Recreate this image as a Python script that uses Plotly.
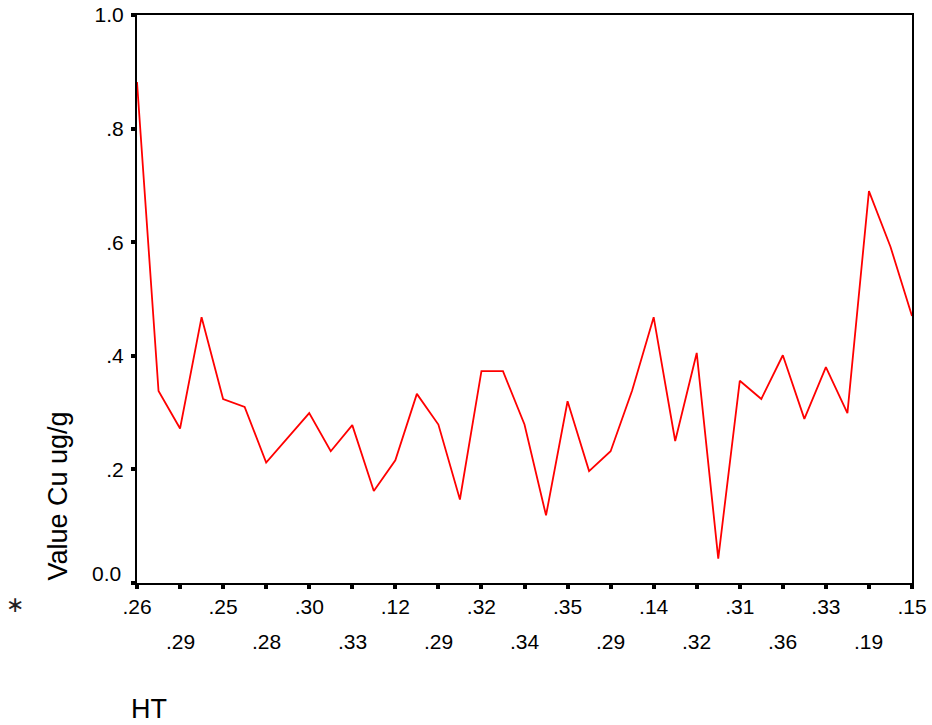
import plotly.graph_objects as go

# Cu values (ug/g) per case
cu_values = [0.882, 0.338, 0.272, 0.468, 0.324, 0.310, 0.212, 0.256, 0.299, 0.232,
             0.278, 0.162, 0.216, 0.333, 0.279, 0.147, 0.373, 0.373, 0.279, 0.119,
             0.320, 0.197, 0.232, 0.339, 0.468, 0.250, 0.405, 0.043, 0.356, 0.324,
             0.401, 0.289, 0.380, 0.299, 0.690, 0.592, 0.470]
# HT labels shown on every other case (alternating two rows)
ht_tick_labels = [".26", ".29", ".25", ".28", ".30", ".33", ".12", ".29", ".32", ".34",
                  ".35", ".29", ".14", ".32", ".31", ".36", ".33", ".19", ".15"]
y_tick_vals = [0.0, 0.2, 0.4, 0.6, 0.8, 1.0]
y_tick_text = ["0.0", ".2", ".4", ".6", ".8", "1.0"]

FONT = "Liberation Sans, Arial, sans-serif"
TICK_SIZE = 21
x_idx = list(range(len(cu_values)))
tick_pos = x_idx[::2]

fig = go.Figure()
fig.add_trace(go.Scatter(x=x_idx, y=cu_values, mode="lines",
                         line=dict(color="#ff0000", width=1.8), hoverinfo="skip"))

row1_text = [lab if i % 2 == 0 else "" for i, lab in enumerate(ht_tick_labels)]
annotations = []
for i, lab in enumerate(ht_tick_labels):
    if i % 2 == 1:
        annotations.append(dict(x=tick_pos[i], xref="x", y=0, yref="paper",
                                yshift=-58, yanchor="middle", xanchor="center",
                                text=lab, showarrow=False,
                                font=dict(family=FONT, size=TICK_SIZE, color="black")))
# y=0 label drawn slightly above its tick as in the reference
annotations.append(dict(x=0, xref="paper", xanchor="right", xshift=-14, y=0, yref="paper",
                        yanchor="middle", yshift=10, text=y_tick_text[0], showarrow=False,
                        font=dict(family=FONT, size=TICK_SIZE, color="black")))
annotations.append(dict(x=0, xref="paper", xanchor="left", xshift=-8, y=0, yref="paper",
                        yanchor="middle", yshift=-126, text="HT", showarrow=False,
                        font=dict(family=FONT, size=27, color="black")))
annotations.append(dict(x=0, xref="paper", xanchor="center", xshift=-80, y=0, yref="paper",
                        yanchor="bottom", text="Value Cu ug/g", textangle=-90, showarrow=False,
                        font=dict(family=FONT, size=27, color="black")))
annotations.append(dict(x=0, xref="paper", xanchor="center", xshift=-122, y=0, yref="paper",
                        yanchor="middle", yshift=-21, text="\u2217", showarrow=False,
                        font=dict(family="DejaVu Sans", size=22, color="#222222")))

fig.update_layout(
    width=932, height=725,
    margin=dict(l=137, r=20, t=15, b=142),
    paper_bgcolor="white", plot_bgcolor="white",
    showlegend=False,
    annotations=annotations,
    xaxis=dict(range=[0, len(cu_values) - 1], tickmode="array", tickvals=tick_pos,
               ticktext=row1_text, ticks="outside", ticklen=4, tickwidth=4,
               tickcolor="black", showline=True, linecolor="black", linewidth=2,
               mirror=True, showgrid=False, zeroline=False, automargin=False,
               tickfont=dict(family=FONT, size=TICK_SIZE, color="black")),
    yaxis=dict(range=[0, 1], tickmode="array", tickvals=y_tick_vals,
               ticktext=[""] + y_tick_text[1:], ticks="outside", ticklen=4, tickwidth=4,
               tickcolor="black", showline=True, linecolor="black", linewidth=2,
               mirror=True, showgrid=False, zeroline=False, automargin=False,
               ticklabelstandoff=3,
               tickfont=dict(family=FONT, size=TICK_SIZE, color="black")),
)

fig.write_html("out.html", config={"displayModeBar": False},
               post_script="document.body.style.margin='0';document.body.style.overflow='hidden';")
